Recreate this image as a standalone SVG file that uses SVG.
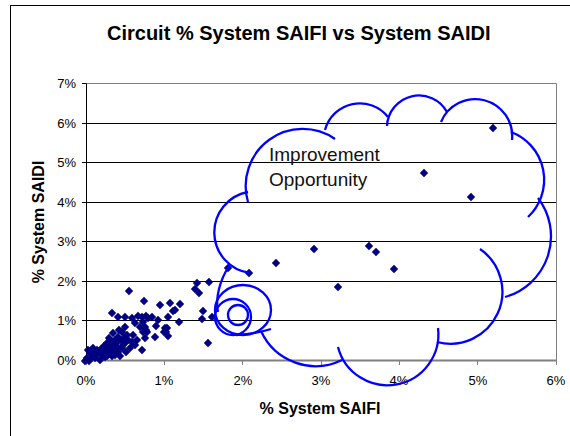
<svg xmlns="http://www.w3.org/2000/svg" xmlns:xlink="http://www.w3.org/1999/xlink" width="570" height="436" viewBox="0 0 570 436">
<style>
text{font-family:"Liberation Sans",Arial,sans-serif;fill:#000}
.t{font-size:20px;font-weight:bold}
.at{font-size:16px;font-weight:bold}
.tl{font-size:13px}
.yl{text-anchor:end}
.xl{text-anchor:middle}
.grid{stroke:#000;stroke-width:1;fill:none}
.cl{stroke:#0000FF;stroke-width:2.3;fill:none;stroke-linecap:butt}
.ct{font-size:19px;fill:#111}
</style>
<defs>
<path id="d" d="M0,-4.2 L4.2,0 L0,4.2 L-4.2,0Z" fill="#000080"/>
</defs>
<rect x="0" y="0" width="570" height="436" fill="#fff"/>
<rect x="10.5" y="5.5" width="620" height="460" fill="none" stroke="#000" stroke-width="1"/>
<text class="t" x="107" y="40">Circuit % System SAIFI vs System SAIDI</text>

<g id="axes">
<path class="grid" d="M86,123.5H556M86,162.5H556M86,202.5H556M86,241.5H556M86,281.5H556M86,320.5H556"/>
<path d="M86,83.5H556.5V360" stroke="#808080" stroke-width="1" fill="none"/>
<path d="M86.5,83.5V360.5" stroke="#000" stroke-width="1"/>
<path d="M82,83.5H86M82,123.5H86M82,162.5H86M82,202.5H86M82,241.5H86M82,281.5H86M82,320.5H86M82,360.5H86" stroke="#000" stroke-width="1"/>
<path d="M86,360.5H556.5" stroke="#808080" stroke-width="2"/>
<path d="M86.5,360V365M164.5,360V365M242.5,360V365M321.5,360V365M399.5,360V365M477.5,360V365M556.5,360V365" stroke="#808080" stroke-width="1"/>
<text class="tl yl" x="76" y="88">7%</text>
<text class="tl yl" x="76" y="128">6%</text>
<text class="tl yl" x="76" y="167">5%</text>
<text class="tl yl" x="76" y="207">4%</text>
<text class="tl yl" x="76" y="246">3%</text>
<text class="tl yl" x="76" y="286">2%</text>
<text class="tl yl" x="76" y="325">1%</text>
<text class="tl yl" x="76" y="365">0%</text>
<text class="tl xl" x="86" y="385">0%</text>
<text class="tl xl" x="164" y="385">1%</text>
<text class="tl xl" x="243" y="385">2%</text>
<text class="tl xl" x="321" y="385">3%</text>
<text class="tl xl" x="399" y="385">4%</text>
<text class="tl xl" x="478" y="385">5%</text>
<text class="tl xl" x="556" y="385">6%</text>
<text class="at xl" x="320" y="414">% System SAIFI</text>
<text class="at xl" transform="translate(44,222) rotate(-90)">% System SAIDI</text>
</g>

<g id="points">
<use href="#d" x="493" y="128"/><use href="#d" x="424" y="173"/><use href="#d" x="471" y="197"/>
<use href="#d" x="314" y="249"/><use href="#d" x="369" y="246"/><use href="#d" x="376" y="252"/>
<use href="#d" x="394" y="269"/><use href="#d" x="276" y="263"/><use href="#d" x="249" y="273"/>
<use href="#d" x="228" y="268"/><use href="#d" x="338" y="287"/><use href="#d" x="209" y="282"/>
<use href="#d" x="197" y="283"/><use href="#d" x="195" y="289"/><use href="#d" x="199" y="293"/>
<use href="#d" x="203" y="311"/><use href="#d" x="202" y="319"/><use href="#d" x="212" y="317"/>
<use href="#d" x="208" y="343"/>
<use href="#d" x="129" y="291"/><use href="#d" x="144" y="301"/><use href="#d" x="160" y="305"/>
<use href="#d" x="170" y="303"/><use href="#d" x="180" y="304"/><use href="#d" x="112" y="313"/>
<use href="#d" x="118" y="317"/><use href="#d" x="125" y="317"/><use href="#d" x="132" y="318"/>
<use href="#d" x="138" y="316"/><use href="#d" x="146" y="316"/><use href="#d" x="152" y="317"/>
<use href="#d" x="173" y="311"/><use href="#d" x="175" y="310"/><use href="#d" x="168" y="317"/>
<use href="#d" x="158" y="320"/><use href="#d" x="179" y="322"/><use href="#d" x="167" y="328"/>
<use href="#d" x="166" y="332"/><use href="#d" x="168" y="336"/><use href="#d" x="155" y="337"/>
<use href="#d" x="142" y="350"/><use href="#d" x="146" y="330"/><use href="#d" x="140" y="327"/>
<use href="#d" x="135" y="323"/><use href="#d" x="143" y="322"/><use href="#d" x="148" y="318"/>
<use href="#d" x="142" y="317"/><use href="#d" x="145" y="327"/><use href="#d" x="147" y="332"/>
<use href="#d" x="165" y="328"/><use href="#d" x="164" y="332"/><use href="#d" x="156" y="326"/>
<use href="#d" x="143" y="332"/><use href="#d" x="145" y="338"/>
<use href="#d" x="87" y="358"/><use href="#d" x="90" y="353"/><use href="#d" x="88" y="350"/>
<use href="#d" x="93" y="348"/><use href="#d" x="98" y="353"/><use href="#d" x="103" y="352"/>
<use href="#d" x="105" y="357"/><use href="#d" x="100" y="360"/><use href="#d" x="95" y="358"/>
<use href="#d" x="108" y="348"/><use href="#d" x="112" y="345"/><use href="#d" x="115" y="340"/>
<use href="#d" x="113" y="333"/><use href="#d" x="118" y="337"/><use href="#d" x="122" y="332"/>
<use href="#d" x="125" y="343"/><use href="#d" x="128" y="340"/><use href="#d" x="127" y="335"/>
<use href="#d" x="117" y="347"/><use href="#d" x="107" y="343"/><use href="#d" x="122" y="348"/>
<use href="#d" x="130" y="348"/><use href="#d" x="133" y="335"/><use href="#d" x="132" y="342"/>
<use href="#d" x="110" y="352"/><use href="#d" x="118" y="352"/><use href="#d" x="115" y="355"/>
<use href="#d" x="92" y="357"/><use href="#d" x="125" y="327"/><use href="#d" x="89" y="361"/>
<use href="#d" x="85" y="361"/><use href="#d" x="96" y="355"/><use href="#d" x="101" y="349"/>
<use href="#d" x="104" y="346"/><use href="#d" x="106" y="350"/><use href="#d" x="110" y="346"/>
<use href="#d" x="113" y="349"/><use href="#d" x="116" y="343"/><use href="#d" x="120" y="340"/>
<use href="#d" x="124" y="338"/><use href="#d" x="111" y="341"/><use href="#d" x="109" y="338"/>
<use href="#d" x="102" y="355"/><use href="#d" x="97" y="350"/><use href="#d" x="94" y="352"/>
<use href="#d" x="119" y="330"/><use href="#d" x="112" y="356"/><use href="#d" x="107" y="356"/>
<use href="#d" x="123" y="345"/><use href="#d" x="126" y="352"/><use href="#d" x="135" y="345"/>
<use href="#d" x="137" y="340"/><use href="#d" x="120" y="356"/>
</g>

<g id="cloud">
<path class="cl" d="M248,202 A57,57 0 0 1 335,139"/>
<path class="cl" d="M325,130 A36,36 0 0 1 388,117"/>
<path class="cl" d="M387,126 A32,32 0 0 1 447,112"/>
<path class="cl" d="M441,122 A37,37 0 0 1 512,140"/>
<path class="cl" d="M511,132 A51,51 0 0 1 528,217"/>
<path class="cl" d="M538,198 A63,63 0 0 1 505,297"/>
<path class="cl" d="M480,249 A52,52 0 0 1 437,342"/>
<path class="cl" d="M438,328 A51,51 0 0 1 338,347"/>
<path class="cl" d="M342,360 A60,60 0 0 1 261,331"/>
<path class="cl" d="M250,273 A41,41 0 0 1 248,192"/>
<path class="cl" d="M229,266 C220,280 215,298 218,312"/>
<ellipse class="cl" cx="243" cy="310" rx="28" ry="25"/>
<circle class="cl" cx="233" cy="317" r="18"/>
<circle class="cl" cx="238" cy="315" r="10"/>
<path class="cl" d="M236,335 Q255,334 271,329"/>
<text class="ct" x="269" y="161">Improvement</text>
<text class="ct" x="269" y="186">Opportunity</text>
</g>
</svg>
